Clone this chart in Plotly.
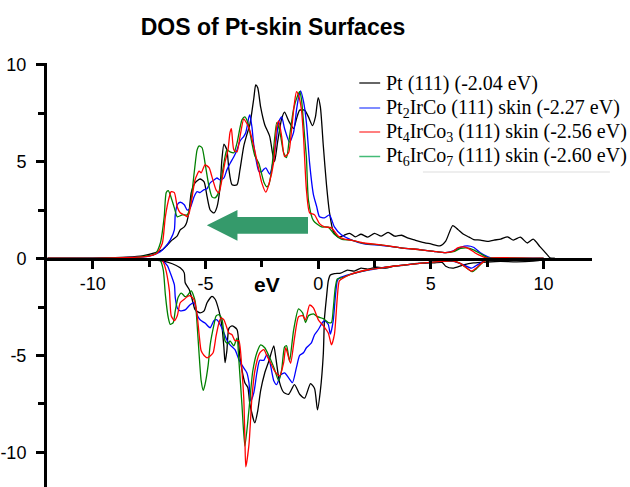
import plotly.graph_objects as go

# ---------------- data (energy in eV, DOS in states/eV) ----------------
pt_up_x = [-12, -10, -9, -8.5, -7.8, -7.22, -6.91, -6.69, -6.47, -6.25, -6.12, -5.94, -5.85, -5.72, -5.63, -5.46,
           -5.24, -5.06, -4.93, -4.79, -4.62, -4.49, -4.35, -4.27, -4.18, -4.05, -3.96, -3.82, -3.60, -3.47, -3.30,
           -3.16, -3.03, -2.85, -2.77, -2.68, -2.55, -2.37, -2.15, -2.02, -1.93, -1.80, -1.62, -1.49, -1.31, -1.09,
           -0.96, -0.82, -0.60, -0.43, -0.25, -0.12, 0.0, 0.10, 0.23, 0.37, 0.50, 0.67, 0.90, 1.15, 1.4, 1.65, 1.9,
           2.2, 2.5, 2.8, 3.1, 3.4, 3.7, 4.0, 4.3, 4.6, 5.0, 5.4, 5.66, 5.97, 6.2, 6.45, 6.7, 6.9, 7.2, 7.5, 7.8,
           8.1, 8.4, 8.66, 8.97, 9.28, 9.54, 9.85, 10.16, 10.3, 10.5]
pt_up_y = [0, 0.02, 0.04, 0.07, 0.14, 0.3, 0.45, 0.7, 0.96, 1.17, 1.48, 1.63, 1.8, 2.5, 3.4, 3.9,
           4.1, 3.95, 3.2, 2.5, 2.35, 2.65, 3.7, 5.1, 5.9, 5.6, 4.6, 3.8, 3.8, 4.57, 5.8,
           6.4, 6.9, 8.3, 8.95, 8.8, 7.8, 6.9, 6.3, 5.4, 5.0, 6.0, 7.2, 7.55, 7.1, 6.7,
           7.2, 7.65, 7.65, 7.3, 6.85, 7.3, 8.3, 7.8, 5.8, 3.8, 2.4, 1.4, 1.1, 1.2, 1.3, 1.12, 1.25,
           1.1, 1.3, 1.15, 1.35, 1.15, 1.2, 1.05, 0.95, 0.85, 0.75, 0.65, 0.9, 1.7, 1.5, 1.25, 1.1, 0.98, 0.95, 0.88, 0.95,
           1.0, 1.12, 0.95, 1.1, 0.8, 1.0, 0.6, 0.2, 0.02, 0]

pt_dn_x = [-12, -9, -8, -7.5, -6.91, -6.47, -6.12, -5.94, -5.90, -5.72, -5.59, -5.46, -5.24, -5.06, -4.93, -4.71,
           -4.57, -4.40, -4.27, -4.18, -4.13, -4.05, -3.96, -3.82, -3.60, -3.47, -3.25, -3.12, -3.03, -2.81, -2.68,
           -2.55, -2.37, -2.19, -1.97, -1.88, -1.71, -1.53, -1.31, -1.05, -0.82, -0.60, -0.34, -0.16, -0.03, 0.10,
           0.23, 0.28, 0.37, 0.45, 0.54, 0.72, 1.0, 1.3, 1.6, 1.9, 2.2, 2.6, 3.0, 3.4, 3.8, 4.4, 5.13, 5.5, 5.66,
           5.97, 6.45, 6.89, 7.51, 8.08, 8.8, 9.54, 9.98, 10.3, 10.5]
pt_dn_y = [0, -0.01, -0.03, -0.05, -0.12, -0.27, -0.48, -0.74, -1.25, -1.6, -2.1, -2.64, -2.8, -2.7, -2.28, -1.95,
           -2.1, -2.7, -3.47, -4.6, -5.37, -4.76, -3.6, -3.47, -3.66, -5.1, -6.4, -6.65, -7.5, -8.47, -7.85,
           -6.8, -5.9, -5.3, -4.5, -5.1, -6.4, -6.9, -7.0, -6.5, -7.0, -7.2, -6.45, -6.7, -7.8, -6.8,
           -4.9, -3.1, -2.0, -1.15, -0.85, -0.78, -0.75, -0.6, -0.65, -0.5, -0.55, -0.45, -0.5, -0.38, -0.35, -0.25, -0.22, -0.2, -0.4,
           -0.5, -0.33, -0.23, -0.18, -0.15, -0.17, -0.13, -0.07, 0, 0]

b_up_x = [-12, -10, -9, -8, -7.5, -7.0, -6.78, -6.56, -6.38, -6.34, -6.25, -6.12, -5.94, -5.81, -5.68, -5.50, -5.37,
          -5.24, -5.06, -4.93, -4.79, -4.62, -4.49, -4.35, -4.18, -4.05, -3.91, -3.74, -3.60, -3.47, -3.30, -3.21,
          -3.07, -3.03, -2.94, -2.85, -2.63, -2.50, -2.41, -2.32, -2.15, -1.97, -1.84, -1.75, -1.62, -1.49, -1.27,
          -1.09, -0.96, -0.87, -0.78, -0.65, -0.52, -0.38, -0.21, -0.07, 0.06, 0.28, 0.50, 0.72, 1.03, 1.47, 2.04,
          2.79, 3.67, 4.56, 5.13, 5.66, 6.0, 6.32, 6.63, 6.89, 7.2, 7.51, 7.73, 8.5, 10]
b_up_y = [0, 0.01, 0.03, 0.07, 0.12, 0.35, 0.6, 0.96, 1.48, 2.25, 2.77, 2.9, 2.77, 2.5, 2.6, 3.2, 3.45,
          3.4, 3.55, 3.6, 3.9, 4.05, 4.15, 4.05, 4.16, 4.57, 4.9, 5.25, 5.6, 6.05, 6.3, 6.5,
          7.3, 7.4, 6.8, 5.8, 4.5, 4.48, 4.6, 4.67, 4.35, 5.2, 6.3, 7.05, 7.3, 6.7, 6.0,
          6.5, 7.66, 8.3, 8.64, 8.1, 7.0, 4.93, 3.3, 2.7, 2.15, 2.1, 2.25, 1.63, 1.22, 0.96, 0.75,
          0.68, 0.55, 0.45, 0.37, 0.3, 0.4, 0.58, 0.65, 0.58, 0.3, 0.1, 0.02, 0, 0]

b_dn_x = [-12, -9, -8, -7.2, -6.91, -6.69, -6.56, -6.38, -6.34, -6.25, -6.12, -5.90, -5.68, -5.50, -5.37, -5.24,
          -5.02, -4.79, -4.62, -4.49, -4.35, -4.18, -4.05, -3.91, -3.69, -3.52, -3.38, -3.16, -3.07, -2.99, -2.85,
          -2.72, -2.59, -2.41, -2.28, -2.15, -1.97, -1.84, -1.66, -1.49, -1.31, -1.14, -0.96, -0.82, -0.65, -0.52,
          -0.30, -0.16, 0.01, 0.19, 0.28, 0.45, 0.54, 0.67, 0.76, 0.85, 0.94, 1.47, 2.22, 3.0, 3.67, 4.5, 5.5,
          6.0, 6.4, 6.8, 7.1, 7.5, 7.73, 10]
b_dn_y = [0, -0.01, -0.03, -0.07, -0.12, -0.37, -0.74, -1.35, -2.0, -2.55, -2.7, -2.65, -2.38, -2.28, -2.9, -3.16,
          -3.33, -3.57, -3.2, -3.16, -3.4, -3.83, -4.2, -4.45, -4.7, -5.2, -5.5, -5.9, -6.4, -7.35, -6.9,
          -5.9, -5.25, -5.25, -4.96, -5.3, -6.3, -6.5, -6.0, -5.9, -6.15, -6.4, -5.6, -5.0, -4.86, -4.6,
          -4.35, -3.93, -3.66, -3.3, -3.2, -3.4, -3.9, -3.2, -2.0, -1.15, -1.0, -0.8, -0.6, -0.45, -0.35, -0.25, -0.15,
          -0.15, -0.3, -0.5, -0.3, -0.05, 0, 0]

r_up_x = [-12, -10, -9, -8, -7.5, -7.13, -6.91, -6.78, -6.60, -6.52, -6.38, -6.25, -6.12, -5.94, -5.81, -5.72,
          -5.59, -5.46, -5.28, -5.19, -5.02, -4.84, -4.71, -4.53, -4.40, -4.27, -4.13, -4.0, -3.91, -3.85, -3.74,
          -3.60, -3.47, -3.30, -3.21, -3.07, -2.85, -2.63, -2.50, -2.32, -2.19, -1.97, -1.84, -1.75, -1.62, -1.49,
          -1.31, -1.18, -1.05, -0.96, -0.87, -0.74, -0.65, -0.52, -0.38, -0.16, 0.06, 0.28, 0.59, 0.90, 1.16, 1.47,
          2.04, 2.79, 3.67, 4.56, 5.13, 5.66, 6.0, 6.19, 6.45, 6.7, 6.95, 7.2, 7.51, 7.8, 10]
r_up_y = [0, 0.01, 0.03, 0.07, 0.12, 0.3, 0.8, 2.15, 3.2, 3.45, 3.4, 2.66, 2.36, 2.25, 2.15, 2.36,
          3.18, 4.06, 4.5, 4.42, 4.83, 4.68, 4.21, 3.54, 3.39, 4.06, 4.98, 5.6, 6.5, 6.7, 5.6,
          5.5, 6.27, 7.2, 7.05, 6.74, 5.76, 4.57, 3.9, 3.42, 3.8, 4.98, 6.8, 7.1, 6.3, 5.25,
          5.45, 6.63, 8.03, 8.6, 8.4, 7.66, 6.3, 3.54, 2.36, 2.25, 1.8, 1.63, 1.58, 1.15, 1.0, 0.95,
          0.8, 0.7, 0.55, 0.45, 0.37, 0.3, 0.38, 0.55, 0.6, 0.5, 0.3, 0.15, 0.02, 0, 0]

r_dn_x = [-12, -9, -8, -7.2, -6.91, -6.78, -6.60, -6.52, -6.38, -6.25, -6.12, -5.94, -5.81, -5.68, -5.50, -5.37,
          -5.28, -5.19, -5.06, -4.93, -4.79, -4.66, -4.53, -4.40, -4.31, -4.18, -4.05, -3.96, -3.82, -3.69, -3.52,
          -3.38, -3.30, -3.25, -3.21, -3.07, -2.94, -2.81, -2.59, -2.41, -2.28, -2.06, -1.93, -1.71, -1.53, -1.44,
          -1.31, -1.22, -1.05, -0.87, -0.69, -0.56, -0.38, -0.21, 0.01, 0.23, 0.45, 0.59, 0.72, 0.85, 0.94, 1.12,
          1.47, 2.22, 3.0, 3.67, 4.5, 5.5, 6.0, 6.3, 6.6, 6.8, 7.0, 7.3, 7.6, 10]
r_dn_y = [0, -0.01, -0.03, -0.07, -0.12, -0.48, -1.67, -2.95, -3.2, -2.95, -2.28, -2.1, -1.97, -1.92, -2.13, -2.9,
          -3.93, -4.76, -5.0, -5.12, -5.02, -4.86, -4.0, -3.31, -3.06, -3.16, -3.57, -3.84, -3.93, -4.24, -4.24,
          -5.8, -7.2, -9.25, -10.74, -9.6, -7.2, -5.8, -4.86, -4.7, -5.0, -5.5, -5.8, -6.05, -5.37, -4.6,
          -5.1, -5.4, -4.1, -3.0, -2.95, -3.16, -2.4, -2.55, -3.16, -3.47, -3.84, -4.45, -3.93, -2.0, -1.15, -1.0,
          -0.8, -0.58, -0.45, -0.35, -0.25, -0.15, -0.13, -0.25, -0.5, -0.65, -0.5, -0.2, 0, 0]

g_up_x = [-12, -10, -9, -8, -7.22, -7.0, -6.83, -6.74, -6.65, -6.56, -6.38, -6.25, -6.03, -5.81, -5.68, -5.50,
          -5.37, -5.28, -5.15, -5.02, -4.84, -4.71, -4.57, -4.40, -4.18, -4.05, -3.91, -3.74, -3.60, -3.38, -3.25,
          -3.12, -2.94, -2.81, -2.63, -2.41, -2.28, -2.19, -2.06, -1.84, -1.71, -1.53, -1.40, -1.27, -1.09, -0.91,
          -0.82, -0.74, -0.60, -0.52, -0.43, -0.21, 0.15, 0.45, 0.72, 1.03, 1.47, 2.04, 2.79, 3.67, 4.56, 5.13,
          5.66, 6.0, 6.32, 6.6, 6.89, 7.2, 7.51, 7.8, 10]
g_up_y = [0, 0.01, 0.03, 0.07, 0.25, 0.8, 2.15, 3.4, 3.5, 3.28, 2.61, 2.15, 2.25, 2.25, 2.66, 4.42,
          5.6, 5.81, 5.71, 4.93, 3.7, 3.18, 3.13, 3.44, 4.93, 5.6, 5.5, 5.45, 5.96, 7.15, 7.3,
          7.0, 5.96, 5.3, 4.9, 3.95, 3.7, 3.8, 4.6, 7.0, 6.6, 5.45, 5.2, 6.27, 7.7, 8.4,
          8.6, 8.2, 6.3, 5.2, 3.0, 1.95, 1.63, 1.62, 1.25, 1.0, 0.95, 0.78, 0.7, 0.55, 0.45, 0.37,
          0.3, 0.35, 0.52, 0.55, 0.45, 0.25, 0.05, 0, 0]

g_dn_x = [-12, -9, -8, -7.22, -7.0, -6.87, -6.78, -6.65, -6.56, -6.43, -6.34, -6.21, -6.07, -5.90, -5.81, -5.63,
          -5.46, -5.37, -5.28, -5.19, -5.10, -5.02, -4.88, -4.79, -4.62, -4.53, -4.40, -4.27, -4.13, -4.0, -3.91,
          -3.74, -3.60, -3.52, -3.38, -3.25, -3.07, -2.90, -2.72, -2.55, -2.37, -2.19, -1.97, -1.75, -1.62, -1.49,
          -1.40, -1.27, -1.09, -0.87, -0.69, -0.56, -0.43, -0.21, -0.03, 0.23, 0.45, 0.59, 0.67, 0.76, 0.85, 1.03,
          1.47, 2.22, 3.0, 3.67, 4.5, 5.5, 6.0, 6.3, 6.6, 6.85, 7.0, 7.3, 7.6, 10]
g_dn_y = [0, -0.01, -0.03, -0.07, -0.12, -0.6, -1.85, -3.05, -3.4, -3.3, -2.7, -2.0, -1.78, -1.97, -1.92, -1.67,
          -2.18, -3.4, -4.96, -6.3, -6.8, -6.5, -5.5, -4.45, -3.4, -2.97, -2.9, -3.1, -4.25, -4.4, -4.25,
          -4.5, -4.1, -5.2, -7.55, -9.67, -7.8, -5.8, -4.86, -4.45, -4.6, -5.0, -5.6, -6.3, -5.75, -4.55,
          -4.5, -5.3, -3.7, -2.6, -2.8, -3.3, -2.95, -2.85, -3.0, -3.1, -3.3, -3.3, -2.6, -1.5, -1.05, -1.0,
          -0.8, -0.58, -0.45, -0.35, -0.25, -0.15, -0.13, -0.25, -0.5, -0.68, -0.55, -0.2, 0, 0]

series_names = ["Pt (111) (-2.04 eV)",
                "Pt<sub>2</sub>IrCo (111) skin (-2.27 eV)",
                "Pt<sub>4</sub>IrCo<sub>3</sub> (111) skin (-2.56 eV)",
                "Pt<sub>6</sub>IrCo<sub>7</sub> (111) skin (-2.60 eV)"]
series_colors = ["#000000", "#0000ff", "#ff0000", "#008000"]
legend_colors = ["#333333", "#5566ff", "#ff5555", "#44bb77"]

x_ticks = [-10, -5, 0, 5, 10]
x_tick_text = ["-10", "-5", "0", "5", "10"]
y_ticks = [-10, -5, 0, 5, 10]
y_tick_text = ["-10", "-5", "0", "5", "10"]

# ---------------- figure ----------------
W, H = 630, 487
ML, MR, MT, MB = 44, 38, 63, 0
XR = [-12.03, 12.15]
YR = [-11.78, 10.08]

fig = go.Figure()
curves = [
    (pt_up_x, pt_up_y, pt_dn_x, pt_dn_y),
    (b_up_x, b_up_y, b_dn_x, b_dn_y),
    (g_up_x, g_up_y, g_dn_x, g_dn_y),
    (r_up_x, r_up_y, r_dn_x, r_dn_y),
]
color_order = [series_colors[0], series_colors[1], series_colors[3], series_colors[2]]
for (ux, uy, dx, dy), c in zip(curves, color_order):
    for xx, yy in ((ux, uy), (dx, dy)):
        fig.add_trace(go.Scatter(x=xx, y=yy, mode="lines",
                                 line=dict(color=c, width=1.3, shape="spline", smoothing=0.6),
                                 showlegend=False, hoverinfo="skip"))

xpos = (0 - YR[0]) / (YR[1] - YR[0])

fig.update_layout(
    width=W, height=H,
    margin=dict(l=ML, r=MR, t=MT, b=MB, pad=0),
    paper_bgcolor="white", plot_bgcolor="white",
    showlegend=False,
    title=dict(text="<b>DOS of Pt-skin Surfaces</b>", x=273 / W, xanchor="center",
               y=1 - 27 / H, yanchor="middle", xref="container", yref="container",
               font=dict(family="Liberation Sans, Arial", size=23, color="black")),
    xaxis=dict(range=XR, showgrid=False, zeroline=False, showline=True, linewidth=3, linecolor="black",
               anchor="free", position=xpos, ticks="outside", ticklen=8, tickwidth=2.5, tickcolor="black",
               tickmode="array", tickvals=x_ticks, ticktext=x_tick_text,
               minor=dict(tickvals=[-7.5, -2.5, 2.5, 7.5], ticks="outside", ticklen=6, tickwidth=2.5, tickcolor="black"),
               tickfont=dict(family="Liberation Sans, Arial", size=18, color="black")),
    yaxis=dict(range=YR, showgrid=False, zeroline=False, showline=True, linewidth=3, linecolor="black",
               ticks="outside", ticklen=8, tickwidth=2.5, tickcolor="black",
               tickmode="array", tickvals=y_ticks, ticktext=y_tick_text, ticklabelstandoff=6,
               minor=dict(tickvals=[-7.5, -2.5, 2.5, 7.5], ticks="outside", ticklen=6, tickwidth=2.5, tickcolor="black"),
               tickfont=dict(family="Liberation Sans, Arial", size=18, color="black")),
)

# x-axis title "eV"
fig.add_annotation(text="<b>eV</b>", x=-2.28, y=-1.35, xref="x", yref="y", showarrow=False,
                   font=dict(family="Liberation Sans, Arial", size=21, color="black"))

# green arrow (shift of the d-band centre)
arrow = dict(tip=-4.94, head=-3.58, tail=-0.45, yc=1.71, body_half=0.43, head_half=0.79)
p = (f"M {arrow['tail']},{arrow['yc'] - arrow['body_half']} L {arrow['head']},{arrow['yc'] - arrow['body_half']} "
     f"L {arrow['head']},{arrow['yc'] - arrow['head_half']} L {arrow['tip']},{arrow['yc']} "
     f"L {arrow['head']},{arrow['yc'] + arrow['head_half']} L {arrow['head']},{arrow['yc'] + arrow['body_half']} "
     f"L {arrow['tail']},{arrow['yc'] + arrow['body_half']} Z")
fig.add_shape(type="path", path=p, xref="x", yref="y", fillcolor="#359a6b", line=dict(width=0), layer="above")

# manual legend
PW, PH = W - ML - MR, H - MT - MB
def px_x(px):
    return (px - ML) / PW
def px_y(py):
    return (H - MB - py) / PH

rows = [83, 108, 132, 156.5]
for name, lc, ry in zip(series_names, legend_colors, rows):
    fig.add_shape(type="line", xref="paper", yref="paper", x0=px_x(358), x1=px_x(379), y0=px_y(ry), y1=px_y(ry),
                  line=dict(color=lc, width=1.5))
    fig.add_annotation(text=name, xref="paper", yref="paper", x=px_x(383), y=px_y(ry), xanchor="left",
                       yanchor="middle", showarrow=False,
                       font=dict(family="Liberation Serif, Times New Roman", size=20, color="black"))
fig.add_shape(type="line", xref="paper", yref="paper", x0=px_x(422), x1=px_x(610), y0=px_y(172), y1=px_y(172),
              line=dict(color="#dddddd", width=1))

fig.write_html("out.html")
